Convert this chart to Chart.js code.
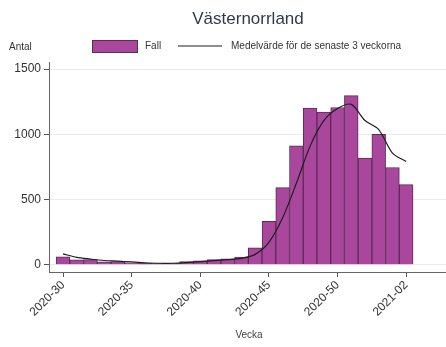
<!DOCTYPE html>
<html>
<head>
<meta charset="utf-8">
<script src="https://cdn.jsdelivr.net/npm/chart.js@4.4.1/dist/chart.umd.min.js"></script>
<style>
  html, body { margin: 0; padding: 0; background: #fff; }
  #wrap { width: 446px; height: 347px; position: relative; }
</style>
</head>
<body>
<div id="wrap"><canvas id="chart"></canvas></div>
<script>
        // Veckor och värden
        const weeks = ['2020-30', '2020-31', '2020-32', '2020-33', '2020-34', '2020-35', '2020-36', '2020-37',
            '2020-38', '2020-39', '2020-40', '2020-41', '2020-42', '2020-43', '2020-44', '2020-45', '2020-46',
            '2020-47', '2020-48', '2020-49', '2020-50', '2020-51', '2020-52', '2020-53', '2021-01', '2021-02'];
        const cases = [61, 38, 40, 23, 25, 16, 11, 9, 10, 24, 30, 40, 46, 59, 130, 334, 592, 913, 1202, 1172,
            1206, 1297, 819, 1000, 746, 615];
        const mean3 = [84, 57, 44, 33, 28, 22, 16, 12, 12, 17, 24, 32, 40, 50, 80, 172, 360, 625, 910, 1105,
            1198, 1230, 1106, 1037, 857, 792];
        const xTickLabels = ['2020-30', '2020-35', '2020-40', '2020-45', '2020-50', '2021-02'];
        const yTicks = [0, 500, 1000, 1500];

        const barColor = '#a8479c';
        const barBorder = '#5e2a5a';
        const lineColor = '#1e1e1e';
        const textColor = '#333';

        // Texter: titel, "Antal", förklaring och "Vecka"
        const overlayText = {
            id: 'overlayText',
            afterDraw(chart) {
                const ctx = chart.ctx;
                ctx.save();
                ctx.textBaseline = 'middle';

                ctx.fillStyle = '#2f3b4c';
                ctx.font = '17px "Liberation Sans", Arial, sans-serif';
                ctx.textAlign = 'center';
                ctx.fillText('Västernorrland', 248, 19);

                ctx.fillStyle = textColor;
                ctx.font = '10px "Liberation Sans", Arial, sans-serif';
                ctx.textAlign = 'left';
                ctx.fillText('Antal', 9, 47);

                // förklaring
                ctx.fillStyle = barColor;
                ctx.fillRect(92, 40, 45, 12);
                ctx.strokeStyle = barBorder;
                ctx.lineWidth = 1;
                ctx.strokeRect(92.5, 40.5, 45, 12);
                ctx.fillStyle = textColor;
                ctx.fillText('Fall', 145, 46);

                ctx.strokeStyle = lineColor;
                ctx.lineWidth = 1.2;
                ctx.beginPath();
                ctx.moveTo(178, 46);
                ctx.lineTo(222, 46);
                ctx.stroke();
                ctx.fillText('Medelvärde för de senaste 3 veckorna', 231, 46);

                ctx.textAlign = 'center';
                ctx.fillStyle = '#444';
                ctx.fillText('Vecka', 249, 335);
                ctx.restore();
            }
        };

        const ctx = document.getElementById('chart').getContext('2d');
        const chart = new Chart(ctx, {
            type: 'bar',
            data: {
                datasets: [{
                    type: 'line',
                    label: 'Medelvärde för de senaste 3 veckorna',
                    data: weeks.map((w, i) => ({ x: i, y: mean3[i] })),
                    borderColor: lineColor,
                    borderWidth: 1.2,
                    pointRadius: 0,
                    tension: 0.3,
                    fill: false,
                    order: 0
                }, {
                    label: 'Fall',
                    data: weeks.map((w, i) => ({ x: i, y: cases[i] })),
                    backgroundColor: barColor,
                    borderColor: barBorder,
                    borderWidth: 1,
                    categoryPercentage: 1.0,
                    barPercentage: 1.0,
                    grouped: false,
                    order: 1
                }]
            },
            options: {
                responsive: true,
                maintainAspectRatio: false,
                animation: false,
                layout: {
                    padding: { top: 62, right: 0, bottom: 0, left: 0 }
                },
                plugins: {
                    legend: { display: false },
                    tooltip: { enabled: false }
                },
                scales: {
                    x: {
                        type: 'linear',
                        min: -1.02,
                        max: 27.9,
                        offset: false,
                        afterFit: function(scale) {
                            scale.height = 75;
                        },
                        afterBuildTicks: function(scale) {
                            scale.ticks = xTickLabels.map(l => ({ value: weeks.indexOf(l) }));
                        },
                        grid: {
                            offset: false,
                            drawOnChartArea: false,
                            tickColor: '#555',
                            tickLength: 5
                        },
                        border: { color: '#666', width: 1 },
                        ticks: {
                            color: textColor,
                            font: { size: 12, family: '"Liberation Sans", Arial, sans-serif' },
                            minRotation: 45,
                            maxRotation: 45,
                            padding: 1,
                            callback: function(value) {
                                return weeks[value] || '';
                            }
                        }
                    },
                    y: {
                        min: -55,
                        max: 1555,
                        afterFit: function(scale) {
                            scale.width = 49;
                        },
                        afterBuildTicks: function(scale) {
                            scale.ticks = yTicks.map(v => ({ value: v }));
                        },
                        grid: {
                            color: '#e6eded',
                            tickColor: '#555',
                            tickLength: 5
                        },
                        border: { color: '#666', width: 1 },
                        ticks: {
                            color: textColor,
                            font: { size: 12, family: '"Liberation Sans", Arial, sans-serif' },
                            padding: 3,
                            callback: function(value) {
                                return String(value);
                            }
                        }
                    }
                }
            },
            plugins: [overlayText]
        });
</script>
</body>
</html>
